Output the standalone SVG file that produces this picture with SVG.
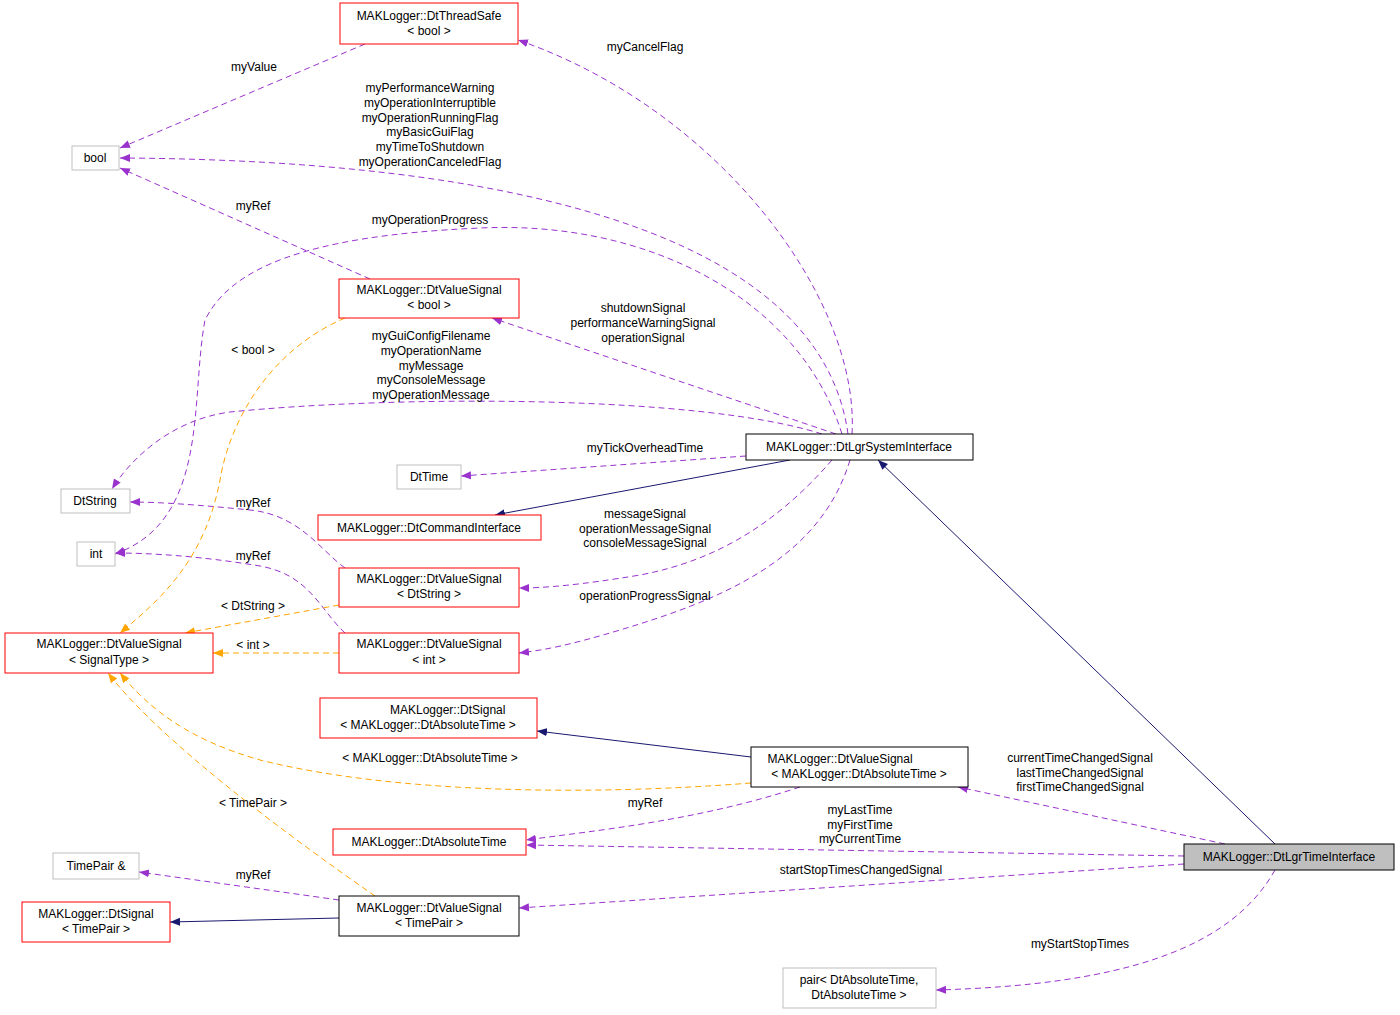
<svg xmlns="http://www.w3.org/2000/svg" width="1400" height="1015" viewBox="0 0 1400 1015">
<style>
text{font-family:"Liberation Sans",Arial,sans-serif;font-size:12px;fill:#000}
.n text{text-anchor:middle}
.r{fill:#fff;stroke:#ff0000}
.g{fill:#fff;stroke:#bfbfbf}
.b{fill:#fff;stroke:#000}
.p{fill:none;stroke:#9a32cd;stroke-dasharray:6,4}
.o{fill:none;stroke:#ffa500;stroke-dasharray:6,4}
.v{fill:none;stroke:#191970}
.l text{text-anchor:middle}
</style>
<defs>
<marker id="mp" viewBox="0 0 10 10" refX="10" refY="5" markerWidth="10" markerHeight="10" markerUnits="userSpaceOnUse" orient="auto"><path d="M0,1L10,5L0,9z" fill="#9a32cd"/></marker>
<marker id="mo" viewBox="0 0 10 10" refX="10" refY="5" markerWidth="10" markerHeight="10" markerUnits="userSpaceOnUse" orient="auto"><path d="M0,1L10,5L0,9z" fill="#ffa500"/></marker>
<marker id="mv" viewBox="0 0 10 10" refX="10" refY="5" markerWidth="10" markerHeight="10" markerUnits="userSpaceOnUse" orient="auto"><path d="M0,1L10,5L0,9z" fill="#191970"/></marker>
</defs>
<rect width="1400" height="1015" fill="#fff"/>
<g id="edges">
<path class="p" marker-end="url(#mp)" d="M365,44 L120,148"/>
<path class="p" marker-end="url(#mp)" d="M852,434 C860,300 720,110 518,40"/>
<path class="p" marker-end="url(#mp)" d="M848,434 C820,230 500,160 120,158"/>
<path class="p" marker-end="url(#mp)" d="M370,279 L120,168"/>
<path class="p" marker-end="url(#mp)" d="M842,434 C800,300 650,220 480,228 C300,236 230,270 205,320 C190,400 210,520 115,554"/>
<path class="p" marker-end="url(#mp)" d="M836,434 L492,318"/>
<path class="p" marker-end="url(#mp)" d="M822,434 C700,395 400,395 230,412 C170,420 130,460 112,489"/>
<path class="p" marker-end="url(#mp)" d="M746,456 L461,476"/>
<path class="v" marker-end="url(#mv)" d="M790,460 L495,515"/>
<path class="p" marker-end="url(#mp)" d="M832,460 C780,520 720,560 640,575 C580,585 545,588 519,588"/>
<path class="p" marker-end="url(#mp)" d="M850,460 C820,560 720,600 620,630 C570,645 545,650 519,653"/>
<path class="p" marker-end="url(#mp)" d="M345,568 C320,550 300,515 250,510 C200,505 160,502 130,502"/>
<path class="p" marker-end="url(#mp)" d="M345,633 C320,610 310,575 260,566 C200,556 150,553 115,553"/>
<path class="o" marker-end="url(#mo)" d="M345,318 C270,350 230,420 220,480 C205,560 160,600 120,633"/>
<path class="o" marker-end="url(#mo)" d="M339,605 L185,633"/>
<path class="o" marker-end="url(#mo)" d="M339,653 L213,653"/>
<path class="o" marker-end="url(#mo)" d="M751,783 C600,795 400,795 260,760 C190,740 150,710 120,673"/>
<path class="o" marker-end="url(#mo)" d="M375,896 C280,830 160,740 108,673"/>
<path class="v" marker-end="url(#mv)" d="M751,757 L537,731"/>
<path class="p" marker-end="url(#mp)" d="M800,787 C700,820 600,830 526,840"/>
<path class="p" marker-end="url(#mp)" d="M1225,844 L958,787"/>
<path class="p" marker-end="url(#mp)" d="M1184,856 L526,845"/>
<path class="v" marker-end="url(#mv)" d="M1275,844 L878,460"/>
<path class="p" marker-end="url(#mp)" d="M1184,864 L519,908"/>
<path class="p" marker-end="url(#mp)" d="M1275,870 C1230,950 1120,985 936,990"/>
<path class="p" marker-end="url(#mp)" d="M339,900 L139,872"/>
<path class="v" marker-end="url(#mv)" d="M339,918 L170,922"/>
</g>
<g class="l">
<text x="254" y="71">myValue</text>
<text x="645" y="51">myCancelFlag</text>
<text x="430" y="92">myPerformanceWarning</text>
<text x="430" y="107">myOperationInterruptible</text>
<text x="430" y="122">myOperationRunningFlag</text>
<text x="430" y="136">myBasicGuiFlag</text>
<text x="430" y="151">myTimeToShutdown</text>
<text x="430" y="166">myOperationCanceledFlag</text>
<text x="253" y="210">myRef</text>
<text x="430" y="224">myOperationProgress</text>
<text x="643" y="312">shutdownSignal</text>
<text x="643" y="327">performanceWarningSignal</text>
<text x="643" y="342">operationSignal</text>
<text x="253" y="354">&lt; bool &gt;</text>
<text x="431" y="340">myGuiConfigFilename</text>
<text x="431" y="355">myOperationName</text>
<text x="431" y="370">myMessage</text>
<text x="431" y="384">myConsoleMessage</text>
<text x="431" y="399">myOperationMessage</text>
<text x="645" y="452">myTickOverheadTime</text>
<text x="253" y="507">myRef</text>
<text x="645" y="518">messageSignal</text>
<text x="645" y="533">operationMessageSignal</text>
<text x="645" y="547">consoleMessageSignal</text>
<text x="253" y="560">myRef</text>
<text x="645" y="600">operationProgressSignal</text>
<text x="253" y="610">&lt; DtString &gt;</text>
<text x="253" y="649">&lt; int &gt;</text>
<text x="430" y="762">&lt; MAKLogger::DtAbsoluteTime &gt;</text>
<text x="1080" y="762">currentTimeChangedSignal</text>
<text x="1080" y="777">lastTimeChangedSignal</text>
<text x="1080" y="791">firstTimeChangedSignal</text>
<text x="253" y="807">&lt; TimePair &gt;</text>
<text x="645" y="807">myRef</text>
<text x="860" y="814">myLastTime</text>
<text x="860" y="829">myFirstTime</text>
<text x="860" y="843">myCurrentTime</text>
<text x="861" y="874">startStopTimesChangedSignal</text>
<text x="253" y="879">myRef</text>
<text x="1080" y="948">myStartStopTimes</text>
</g>
<g class="n">
<g id="threadsafe"><rect class="r" x="340" y="3" width="178" height="41"/><text x="429" y="20">MAKLogger::DtThreadSafe</text><text x="429" y="35">&lt; bool &gt;</text></g>
<g id="bool"><rect class="g" x="72" y="146" width="47" height="24"/><text x="95" y="162">bool</text></g>
<g id="vsbool"><rect class="r" x="339" y="279" width="180" height="39"/><text x="429" y="294">MAKLogger::DtValueSignal</text><text x="429" y="309">&lt; bool &gt;</text></g>
<g id="dtstring"><rect class="g" x="61" y="489" width="69" height="24"/><text x="95" y="505">DtString</text></g>
<g id="dttime"><rect class="g" x="397" y="465" width="64" height="24"/><text x="429" y="481">DtTime</text></g>
<g id="cmdif"><rect class="r" x="318" y="515" width="223" height="25"/><text x="429" y="532">MAKLogger::DtCommandInterface</text></g>
<g id="int"><rect class="g" x="77" y="542" width="38" height="24"/><text x="96" y="558">int</text></g>
<g id="sysif"><rect class="b" x="746" y="434" width="227" height="26"/><text x="859" y="451">MAKLogger::DtLgrSystemInterface</text></g>
<g id="vsstring"><rect class="r" x="339" y="568" width="180" height="39"/><text x="429" y="583">MAKLogger::DtValueSignal</text><text x="429" y="598">&lt; DtString &gt;</text></g>
<g id="vstype"><rect class="r" x="5" y="633" width="208" height="40"/><text x="109" y="648">MAKLogger::DtValueSignal</text><text x="109" y="664">&lt; SignalType &gt;</text></g>
<g id="vsint"><rect class="r" x="339" y="633" width="180" height="40"/><text x="429" y="648">MAKLogger::DtValueSignal</text><text x="429" y="664">&lt; int &gt;</text></g>
<g id="sigabs"><rect class="r" x="320" y="698" width="217" height="40"/><text x="390" y="714" style="text-anchor:start">MAKLogger::DtSignal</text><text x="428" y="714" style="display:none"></text><text x="428" y="729">&lt; MAKLogger::DtAbsoluteTime &gt;</text></g>
<g id="vsabs"><rect class="b" x="751" y="747" width="217" height="40"/><text x="840" y="763">MAKLogger::DtValueSignal</text><text x="859" y="778">&lt; MAKLogger::DtAbsoluteTime &gt;</text></g>
<g id="abstime"><rect class="r" x="333" y="829" width="193" height="26"/><text x="429" y="846">MAKLogger::DtAbsoluteTime</text></g>
<g id="timeif"><rect x="1184" y="844" width="210" height="26" fill="#bfbfbf" stroke="#000"/><text x="1289" y="861">MAKLogger::DtLgrTimeInterface</text></g>
<g id="timepairref"><rect class="g" x="53" y="853" width="86" height="26"/><text x="96" y="870">TimePair &amp;</text></g>
<g id="sigtp"><rect class="r" x="22" y="902" width="148" height="40"/><text x="96" y="918">MAKLogger::DtSignal</text><text x="96" y="933">&lt; TimePair &gt;</text></g>
<g id="vstp"><rect class="b" x="339" y="896" width="180" height="40"/><text x="429" y="912">MAKLogger::DtValueSignal</text><text x="429" y="927">&lt; TimePair &gt;</text></g>
<g id="pair"><rect class="g" x="783" y="968" width="153" height="40"/><text x="859" y="984">pair&lt; DtAbsoluteTime,</text><text x="859" y="999">DtAbsoluteTime &gt;</text></g>
</g>
</svg>
